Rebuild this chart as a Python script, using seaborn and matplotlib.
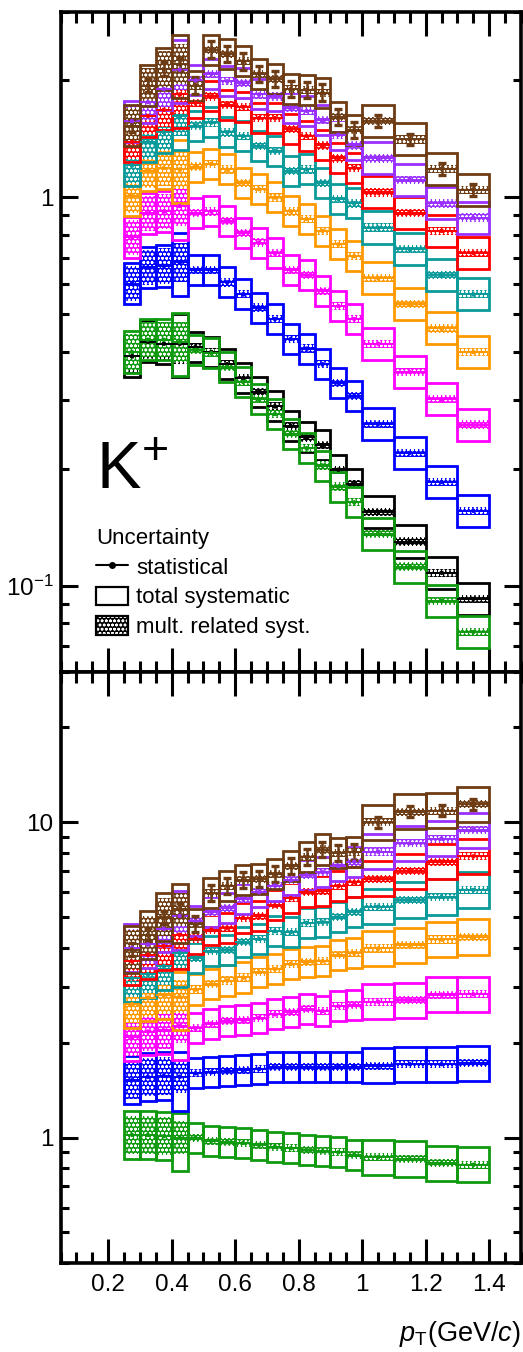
import numpy as np
import pandas as pd
import matplotlib
matplotlib.use("Agg")
import matplotlib.pyplot as plt
import seaborn as sns
from matplotlib.patches import Rectangle, Patch
from matplotlib.lines import Line2D
from matplotlib.ticker import FixedLocator, MultipleLocator, LogLocator, FixedFormatter, NullFormatter

# ---------------------------------------------------------------- data
pt_edges = [0.25, 0.30, 0.35, 0.40, 0.45, 0.50, 0.55, 0.60, 0.65, 0.70, 0.75,
            0.80, 0.85, 0.90, 0.95, 1.00, 1.10, 1.20, 1.30, 1.40]

# multiplicity classes, drawn from the reference (MB) up to the highest class
class_order = ["MB", "VIII", "VII", "VI", "V", "IV", "III", "II", "I"]
class_colors = {"MB": "#000000", "VIII": "#109a10", "VII": "#0000ff",
                "VI": "#ff00ff", "V": "#ff9900", "IV": "#0a9a9a",
                "III": "#ff0000", "II": "#9a30ff", "I": "#6e3c14"}

# pT spectra (upper panel)
spec_I    = [1.53, 1.94, 2.14, 2.20, 1.94, 2.40, 2.34, 2.24, 2.08, 2.02, 1.90, 1.89, 1.86, 1.61, 1.49, 1.57, 1.41, 1.185, 1.045]
spec_II   = [1.57, 1.76, 1.90, 2.13, 2.00, 2.08, 1.99, 1.97, 1.84, 1.82, 1.70, 1.67, 1.58, 1.45, 1.36, 1.26, 1.11, 0.965, 0.887]
spec_III  = [1.39, 1.62, 1.68, 1.84, 1.75, 1.82, 1.73, 1.71, 1.60, 1.60, 1.50, 1.44, 1.36, 1.26, 1.19, 1.03, 0.913, 0.82, 0.72]
spec_IV   = [1.21, 1.39, 1.47, 1.62, 1.53, 1.56, 1.47, 1.44, 1.355, 1.315, 1.17, 1.18, 1.09, 0.99, 0.965, 0.836, 0.735, 0.63, 0.563]
spec_V    = [1.01, 1.17, 1.19, 1.18, 1.20, 1.22, 1.18, 1.09, 1.05, 1.00, 0.92, 0.88, 0.82, 0.757, 0.706, 0.62, 0.531, 0.46, 0.40]
spec_VI   = [0.79, 0.91, 0.92, 0.95, 0.91, 0.92, 0.87, 0.81, 0.765, 0.718, 0.65, 0.63, 0.575, 0.525, 0.486, 0.42, 0.355, 0.302, 0.26]
spec_VII  = [0.60, 0.66, 0.666, 0.68, 0.65, 0.65, 0.604, 0.563, 0.52, 0.486, 0.432, 0.408, 0.372, 0.333, 0.308, 0.261, 0.22, 0.185, 0.156]
spec_VIII = [0.40, 0.43, 0.43, 0.424, 0.405, 0.397, 0.366, 0.335, 0.302, 0.277, 0.246, 0.226, 0.204, 0.18, 0.164, 0.136, 0.112, 0.0915, 0.076]
spec_MB   = [0.39, 0.425, 0.42, 0.42, 0.412, 0.40, 0.372, 0.342, 0.316, 0.29, 0.258, 0.241, 0.23, 0.199, 0.183, 0.155, 0.13, 0.108, 0.0925]

# ratios to the reference spectrum (lower panel)
ratio_I    = [3.95, 4.40, 5.00, 5.30, 4.75, 5.95, 6.30, 6.55, 6.60, 6.85, 7.25, 7.75, 8.20, 8.00, 8.05, 10.0, 10.8, 10.9, 11.4]
ratio_II   = [4.00, 4.10, 4.60, 5.05, 4.85, 5.20, 5.35, 5.72, 6.00, 6.30, 6.55, 6.80, 6.95, 7.27, 7.50, 8.08, 8.58, 8.88, 9.45]
ratio_III  = [3.62, 3.80, 4.05, 4.40, 4.28, 4.57, 4.63, 4.98, 5.05, 5.45, 5.75, 6.03, 6.05, 6.28, 6.45, 6.63, 7.00, 7.50, 7.80]
ratio_IV   = [3.20, 3.30, 3.50, 3.85, 3.72, 3.90, 3.93, 4.17, 4.27, 4.52, 4.48, 4.80, 4.82, 5.00, 5.20, 5.40, 5.67, 5.80, 6.10]
ratio_V    = [2.65, 2.78, 2.83, 2.80, 2.95, 3.07, 3.15, 3.22, 3.35, 3.42, 3.56, 3.60, 3.63, 3.80, 3.85, 3.98, 4.08, 4.25, 4.33]
ratio_VI   = [2.08, 2.17, 2.19, 2.26, 2.22, 2.30, 2.34, 2.36, 2.40, 2.46, 2.50, 2.55, 2.52, 2.61, 2.64, 2.70, 2.73, 2.84, 2.85]
ratio_VII  = [1.52, 1.56, 1.57, 1.56, 1.60, 1.61, 1.625, 1.64, 1.65, 1.67, 1.67, 1.675, 1.67, 1.68, 1.68, 1.69, 1.71, 1.71, 1.72]
ratio_VIII = [1.02, 1.02, 1.01, 1.00, 1.00, 0.978, 0.971, 0.962, 0.948, 0.936, 0.925, 0.913, 0.905, 0.898, 0.883, 0.866, 0.855, 0.83, 0.82]

# uncertainties as multiplicative factors (box spans value/down .. value*up)
sys_up_spec   = [1.13, 1.13, 1.13, 1.19, 1.093, 1.093, 1.093, 1.093, 1.093, 1.093, 1.093, 1.093, 1.093, 1.093, 1.093, 1.10, 1.10, 1.10, 1.10]
sys_dn_spec   = [1.13, 1.13, 1.13, 1.22, 1.093, 1.093, 1.093, 1.093, 1.093, 1.093, 1.093, 1.093, 1.093, 1.093, 1.093, 1.10, 1.10, 1.10, 1.10]
mult_spec     = [1.11, 1.11, 1.11, 1.125, 1.025, 1.025, 1.025, 1.025, 1.025, 1.025, 1.025, 1.025, 1.025, 1.025, 1.025, 1.025, 1.025, 1.025, 1.025]
sys_up_ratio  = [1.19, 1.19, 1.19, 1.20, 1.116, 1.116, 1.116, 1.116, 1.116, 1.116, 1.116, 1.116, 1.116, 1.116, 1.116, 1.137, 1.137, 1.137, 1.137]
sys_dn_ratio  = [1.19, 1.19, 1.19, 1.28, 1.116, 1.116, 1.116, 1.116, 1.116, 1.116, 1.116, 1.116, 1.116, 1.116, 1.116, 1.137, 1.137, 1.137, 1.137]
mult_ratio    = [1.15, 1.15, 1.15, 1.13, 1.03, 1.03, 1.03, 1.03, 1.03, 1.03, 1.03, 1.03, 1.03, 1.03, 1.03, 1.03, 1.03, 1.03, 1.03]
stat_spec_I   = [1.04, 1.04, 1.04, 1.04, 1.05, 1.05, 1.05, 1.05, 1.05, 1.05, 1.05, 1.05, 1.05, 1.05, 1.05, 1.035, 1.035, 1.035, 1.035]
stat_ratio_I  = [1.05, 1.05, 1.05, 1.05, 1.06, 1.06, 1.06, 1.06, 1.06, 1.06, 1.06, 1.06, 1.06, 1.06, 1.06, 1.04, 1.04, 1.04, 1.04]
stat_other    = 1.008

x_ticks = [0.2, 0.4, 0.6, 0.8, 1.0, 1.2, 1.4]
x_tick_labels = ["0.2", "0.4", "0.6", "0.8", "1", "1.2", "1.4"]
spec_yticks = [0.1, 1.0]
spec_ytick_labels = ["$10^{-1}$", "1"]
ratio_yticks = [1.0, 10.0]
ratio_ytick_labels = ["1", "10"]

spectra = {"I": spec_I, "II": spec_II, "III": spec_III, "IV": spec_IV, "V": spec_V,
           "VI": spec_VI, "VII": spec_VII, "VIII": spec_VIII, "MB": spec_MB}
ratios = {"I": ratio_I, "II": ratio_II, "III": ratio_III, "IV": ratio_IV, "V": ratio_V,
          "VI": ratio_VI, "VII": ratio_VII, "VIII": ratio_VIII}

# ---------------------------------------------------------------- style
sns.set_theme(style="ticks")
plt.rcParams["font.family"] = ["Liberation Sans", "DejaVu Sans"]
plt.rcParams["mathtext.fontset"] = "custom"
plt.rcParams["mathtext.rm"] = "Liberation Sans"
plt.rcParams["mathtext.it"] = "Liberation Sans:italic"
plt.rcParams["mathtext.bf"] = "Liberation Sans:bold"
plt.rcParams["mathtext.default"] = "regular"
plt.rcParams["hatch.linewidth"] = 0.75
for k in ("axes.edgecolor", "xtick.color", "ytick.color", "text.color", "axes.labelcolor"):
    plt.rcParams[k] = "black"

HATCH = "oooo"

fig = plt.figure(figsize=(5.23, 13.52), dpi=100)
ax_top = fig.add_axes([0.1157, 0.5030, 0.8803, 0.4881])
ax_bot = fig.add_axes([0.1157, 0.0658, 0.8803, 0.4372])

lo = np.array(pt_edges[:-1])
hi = np.array(pt_edges[1:])
centers = 0.5 * (lo + hi)
widths = hi - lo


def draw_panel(ax, table, sys_up, sys_dn, mult, stat_I):
    sys_up, sys_dn, mult = map(np.asarray, (sys_up, sys_dn, mult))
    rows = []
    for name in class_order:
        if name not in table:
            continue
        v = np.asarray(table[name])
        col = class_colors[name]
        for i in range(len(v)):
            # multiplicity-related systematics: hatched filled box
            ax.add_patch(Rectangle((lo[i], v[i] / mult[i]), widths[i],
                                   v[i] * mult[i] - v[i] / mult[i],
                                   facecolor=col, edgecolor="white", hatch=HATCH,
                                   lw=0, zorder=2))
            # total systematics: open box
            ax.add_patch(Rectangle((lo[i], v[i] / sys_dn[i]), widths[i],
                                   v[i] * sys_up[i] - v[i] / sys_dn[i],
                                   fill=False, edgecolor=col, lw=2.0, zorder=2))
        stat = np.asarray(stat_I) if name == "I" else np.full(len(v), stat_other)
        ax.errorbar(centers, v, xerr=widths / 2, fmt="none", ecolor=col,
                    elinewidth=1.4, capsize=0, zorder=3)
        ax.errorbar(centers, v, yerr=[v - v / stat, v * stat - v], fmt="none",
                    ecolor=col, elinewidth=1.8,
                    capsize=3 if name == "I" else 0, capthick=2.4, zorder=3)
        rows += [{"pt": c, "value": y, "cls": name} for c, y in zip(centers, v)]
    df = pd.DataFrame(rows)
    sns.scatterplot(data=df, x="pt", y="value", hue="cls", palette=class_colors,
                    s=10, linewidth=0, legend=False, ax=ax, zorder=4)


draw_panel(ax_top, spectra, sys_up_spec, sys_dn_spec, mult_spec, stat_spec_I)
draw_panel(ax_bot, ratios, sys_up_ratio, sys_dn_ratio, mult_ratio, stat_ratio_I)

for ax in (ax_top, ax_bot):
    ax.set_yscale("log")
    ax.set_xlim(0.05, 1.5)
    ax.set_xlabel("")
    ax.set_ylabel("")
    ax.xaxis.set_major_locator(FixedLocator(x_ticks))
    ax.xaxis.set_minor_locator(MultipleLocator(0.05))
    ax.yaxis.set_minor_locator(LogLocator(base=10, subs=np.arange(2, 10)))
    ax.yaxis.set_minor_formatter(NullFormatter())
    ax.tick_params(which="both", direction="in", top=True, right=True,
                   width=2.2, labelsize=17.5)
    ax.tick_params(axis="x", which="major", length=17, pad=8)
    ax.tick_params(axis="x", which="minor", length=8)
    ax.tick_params(axis="y", which="major", length=12, pad=5)
    ax.tick_params(axis="y", which="minor", length=6)
    for s in ax.spines.values():
        s.set_linewidth(2.6)
        s.set_color("black")

ax_top.set_ylim(0.06, 3.0)
ax_top.yaxis.set_major_locator(FixedLocator(spec_yticks))
ax_top.yaxis.set_major_formatter(FixedFormatter(spec_ytick_labels))
ax_top.tick_params(axis="x", labelbottom=False)

ax_bot.set_ylim(0.4, 30)
ax_bot.yaxis.set_major_locator(FixedLocator(ratio_yticks))
ax_bot.yaxis.set_major_formatter(FixedFormatter(ratio_ytick_labels))
ax_bot.xaxis.set_major_formatter(FixedFormatter(x_tick_labels))

# particle label
ax_top.text(0.076, 0.277, "K$^{+}$", transform=ax_top.transAxes, fontsize=48,
            ha="left", va="baseline")

# uncertainty legend
stat_handle = Line2D([], [], color="black", marker="o", markersize=4, lw=1.5)
tot_handle = Patch(facecolor="white", edgecolor="black", lw=1.6)
mult_handle = (Patch(facecolor="black", edgecolor="white", hatch=HATCH, lw=0),
               Patch(fill=False, edgecolor="black", lw=1.6))
leg = ax_top.legend([stat_handle, tot_handle, mult_handle],
                    ["statistical", "total systematic", "mult. related syst."],
                    title="Uncertainty", loc="upper left",
                    bbox_to_anchor=(0.077, 0.218), frameon=False,
                    fontsize=16, title_fontsize=16, handlelength=1.45,
                    handleheight=0.9, handletextpad=0.35, labelspacing=0.35,
                    borderpad=0, borderaxespad=0, alignment="left")

fig.text(0.996, 1 - 1334 / 1352, r"$\it{p}_{\rm T}$(GeV/$\it{c}$)", fontsize=19.5,
         ha="right", va="center")

fig.savefig("out.png", dpi=100)
